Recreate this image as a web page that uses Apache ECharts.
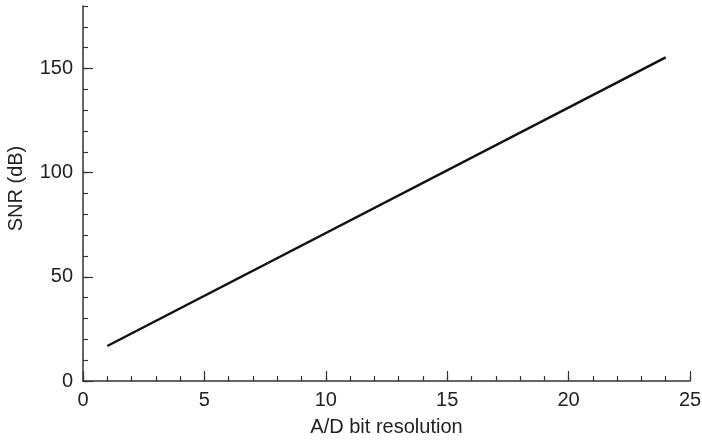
<!DOCTYPE html>
<html>
<head>
<meta charset="utf-8">
<script src="https://cdn.jsdelivr.net/npm/echarts@6/dist/echarts.min.js"></script>
<style>
  html, body { margin: 0; padding: 0; background: #fff; }
  #chart { width: 702px; height: 443px; }
</style>
</head>
<body>
<div id="chart"></div>
<script>
// SNR vs. A/D bit resolution
const bits = [1, 24];
const snr = [16.8, 155.3];

const xMajorTicks = [0, 5, 10, 15, 20, 25];
const yMajorTicks = [0, 50, 100, 150];

const axisColor = '#333';
const font = 'Liberation Sans, Arial, sans-serif';

const chart = echarts.init(document.getElementById('chart'));

const baseX = {
  type: 'value', min: 0, max: 25, position: 'bottom',
  splitLine: { show: false },
  axisLine: { show: true, onZero: false, lineStyle: { color: axisColor, width: 1.5 } }
};
const baseY = {
  type: 'value', min: 0, max: 180, position: 'left',
  splitLine: { show: false },
  axisLine: { show: true, onZero: false, lineStyle: { color: axisColor, width: 1.5 } }
};

chart.setOption({
  animation: false,
  grid: { left: 83, right: 12, top: 6, bottom: 62, containLabel: false, outerBoundsMode: 'none' },
  xAxis: [
    {
      ...baseX,
      interval: 1,
      name: 'A/D bit resolution',
      nameLocation: 'middle',
      nameGap: 36,
      nameTextStyle: { color: '#222', fontSize: 20, fontFamily: font },
      axisTick: { show: true, inside: true, length: 5, lineStyle: { color: axisColor, width: 1.2 } },
      axisLabel: {
        customValues: xMajorTicks, margin: 9,
        color: '#222', fontSize: 20, fontFamily: font
      }
    },
    {
      ...baseX,
      interval: 5,
      axisLine: { show: false },
      axisTick: { show: true, customValues: xMajorTicks, inside: true, length: 10, lineStyle: { color: axisColor, width: 1.2 } },
      axisLabel: { show: false }
    }
  ],
  yAxis: [
    {
      ...baseY,
      interval: 10,
      name: 'SNR (dB)',
      nameLocation: 'middle',
      nameGap: 57,
      nameRotate: 90,
      nameTextStyle: { color: '#222', fontSize: 20, fontFamily: font, padding: [0, 0, 0, 10] },
      axisTick: { show: true, inside: true, length: 5, lineStyle: { color: axisColor, width: 1.2 } },
      axisLabel: {
        customValues: yMajorTicks, margin: 10,
        color: '#222', fontSize: 20, fontFamily: font
      }
    },
    {
      ...baseY,
      interval: 10,
      axisLine: { show: false },
      axisTick: { show: true, customValues: yMajorTicks, inside: true, length: 10, lineStyle: { color: axisColor, width: 1.2 } },
      axisLabel: { show: false }
    }
  ],
  series: [
    {
      type: 'line',
      data: bits.map((b, i) => [b, snr[i]]),
      showSymbol: false,
      lineStyle: { color: '#111', width: 2.5 }
    }
  ]
});
</script>
</body>
</html>
